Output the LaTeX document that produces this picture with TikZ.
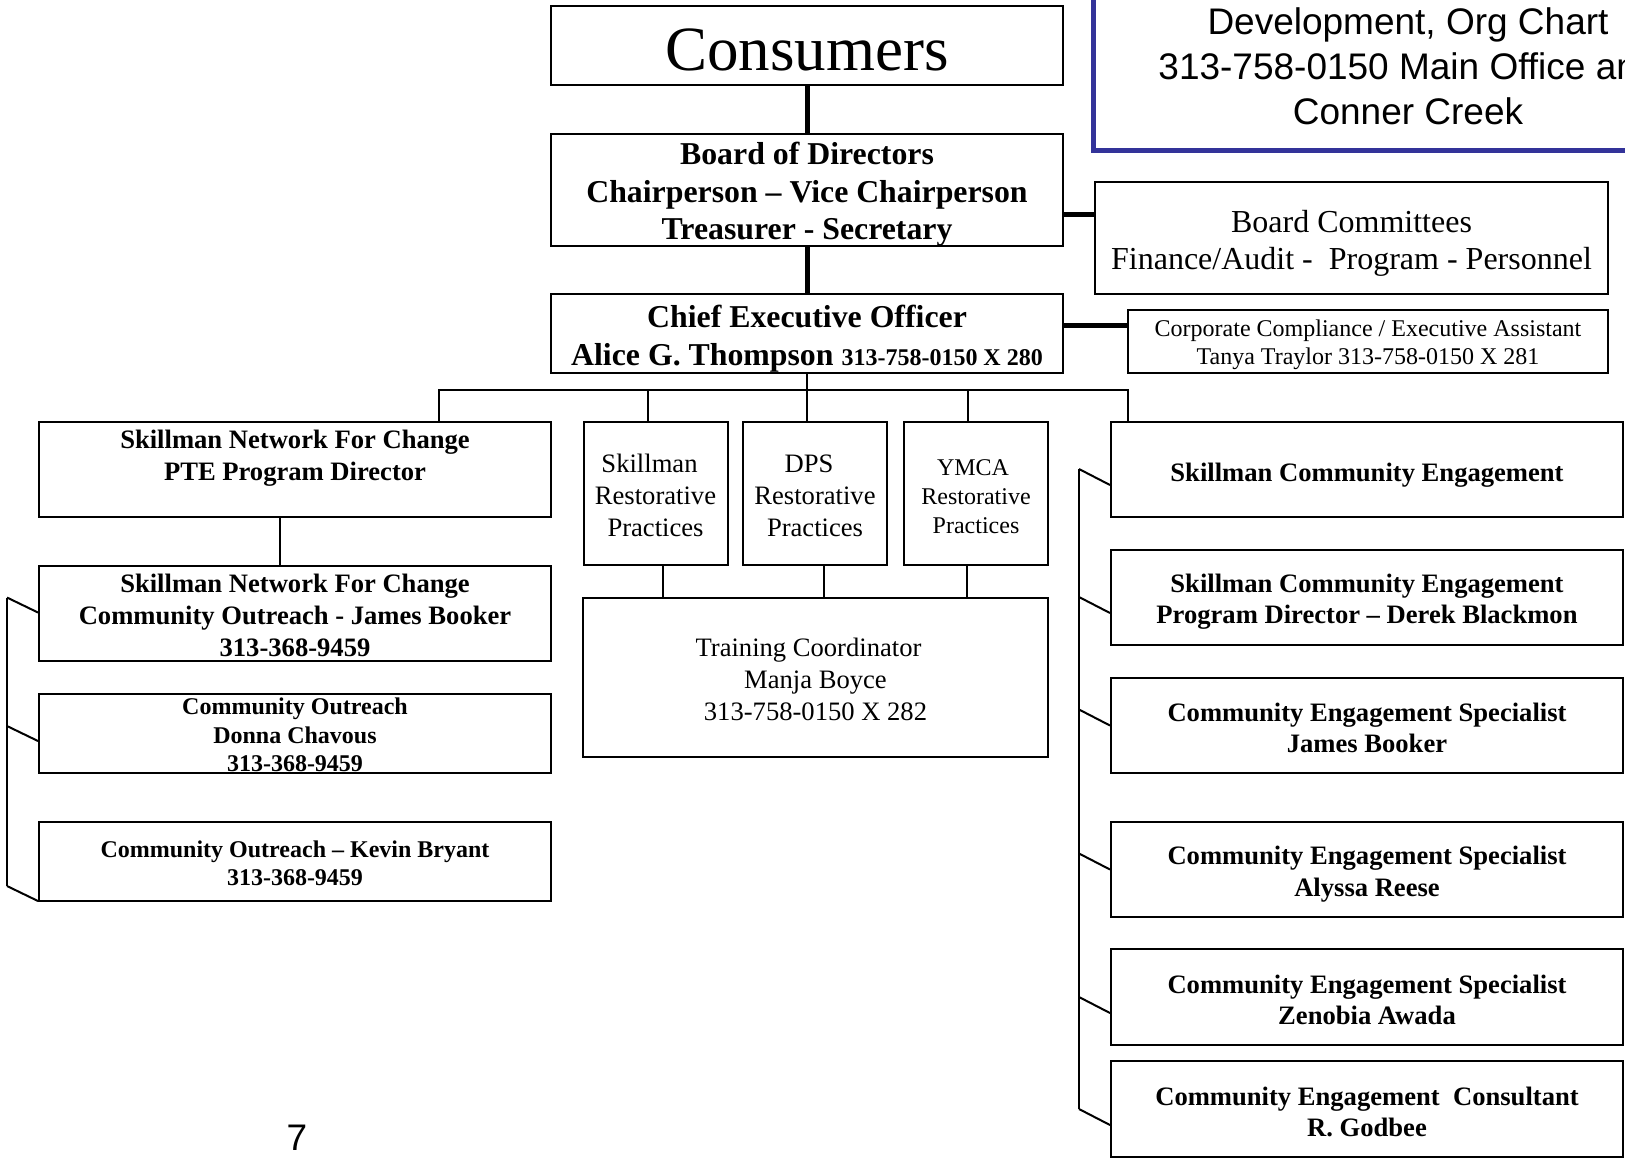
\documentclass[tikz,border=0pt]{standalone}
\usepackage{fontspec}
\setmainfont{Liberation Serif}
\newfontfamily\arialfont{Liberation Sans}
\definecolor{chartblue}{RGB}{51,51,153}
\newcommand\lowerby[1]{\rule{0pt}{\dimexpr0.72em+#1\relax}}

\begin{document}
\begin{tikzpicture}[x=0.5pt, y=-0.5pt,
  orgbox/.style = {draw, line width=1pt, align=center, inner sep=0pt},
  wide/.style = {orgbox, minimum width=256pt, minimum height=47.5pt},
  rpbox/.style = {orgbox, minimum width=72pt, minimum height=71.5pt},
  bigtxt/.style = {font=\bfseries\fontsize{15.9}{18.7}\selectfont},
  midtxt/.style = {font=\bfseries\fontsize{13.3}{15.8}\selectfont},
  smalltxt/.style = {font=\bfseries\fontsize{12}{14.2}\selectfont},
  plaintxt/.style = {font=\fontsize{13.3}{16}\selectfont},
  thin/.style = {line width=1pt},
  heavy/.style = {line width=2.5pt}]
\useasboundingbox (0,0) rectangle (1625,1158);

\draw[chartblue, line width=2.5pt] (1093,-60) rectangle (1723,150);
\node[align=center, inner sep=0pt, font=\arialfont\fontsize{18.5}{22.5}\selectfont] (title) at (1408,66) {Development, Org Chart\\313-758-0150 Main Office and\\Conner Creek};

\node[orgbox, minimum width=256pt, minimum height=39.5pt, font=\fontsize{31.5}{36}\selectfont] (cons) at (807,45.5) {\lowerby{3pt}Consumers};
\node[orgbox, bigtxt, minimum width=256pt, minimum height=56pt] (board) at (807,190) {\lowerby{4pt}Board of Directors\\Chairperson -- Vice Chairperson\\Treasurer - Secretary};
\node[orgbox, minimum width=256.5pt, minimum height=56pt, font=\fontsize{16}{18.5}\selectfont] (comm) at (1351.5,238) {\lowerby{4.5pt}Board Committees\\Finance/Audit -\ \ Program - Personnel};
\node[orgbox, bigtxt, minimum width=256pt, minimum height=39.5pt] (ceo) at (807,333.5) {\lowerby{5pt}Chief Executive Officer\\Alice G. Thompson {\fontsize{12}{14}\selectfont 313-758-0150 X 280}};
\node[orgbox, minimum width=240pt, minimum height=31.5pt, font=\fontsize{12}{14}\selectfont] (corp) at (1368,341.5) {\lowerby{3pt}Corporate Compliance / Executive Assistant\\Tanya Traylor 313-758-0150 X 281};

\node[wide, midtxt] (pte) at (295,469.5) {\lowerby{1.5pt}Skillman Network For Change\\PTE Program Director\\\mbox{}};
\node[wide, midtxt] (snco) at (295,613.5) {\lowerby{1.5pt}Skillman Network For Change\\Community Outreach - James Booker\\313-368-9459};
\node[wide, smalltxt, minimum height=39.5pt] (donna) at (295,733.5) {\lowerby{1pt}Community Outreach\\Donna Chavous\\313-368-9459};
\node[wide, smalltxt, minimum height=39.5pt] (kevin) at (295,861.5) {\lowerby{1.5pt}Community Outreach -- Kevin Bryant\\313-368-9459};

\node[rpbox, plaintxt] (srp) at (655.5,493.5) {\lowerby{2pt}Skillman\hspace*{6pt}\\Restorative\hspace*{3pt}\\Practices};
\node[rpbox, plaintxt] (dps) at (815,493.5) {\lowerby{2pt}DPS\hspace*{6pt}\\Restorative\\Practices};
\node[rpbox, font=\fontsize{12}{14.5}\selectfont] (ymca) at (976,493.5) {\lowerby{2.5pt}YMCA\hspace*{3pt}\\Restorative\hspace*{3pt}\\Practices};
\node[orgbox, plaintxt, minimum width=232.5pt, minimum height=79.5pt] (train) at (815.5,677.5) {\lowerby{2pt}Training Coordinator\hspace*{7pt}\\Manja Boyce\\313-758-0150 X 282};

\node[wide, midtxt] (sce) at (1367,469.5) {\lowerby{5pt}Skillman Community Engagement};
\node[wide, midtxt] (scepd) at (1367,597.5) {\lowerby{4pt}Skillman Community Engagement\\Program Director -- Derek Blackmon};
\node[wide, midtxt] (ces1) at (1367,725.5) {\lowerby{2pt}Community Engagement Specialist\\James Booker};
\node[wide, midtxt] (ces2) at (1367,869.5) {\lowerby{4.5pt}Community Engagement Specialist\\Alyssa Reese};
\node[wide, midtxt, minimum height=48pt] (ces3) at (1367,997) {\lowerby{2.5pt}Community Engagement Specialist\\Zenobia Awada};
\node[wide, midtxt, minimum height=48pt] (cec) at (1367,1109) {\lowerby{2.5pt}Community Engagement\ \ Consultant\\R. Godbee};

\node[inner sep=0pt, font=\arialfont\fontsize{18.5}{22}\selectfont] (pagenum) at (297,1138) {7};

\draw[heavy] (cons.south) -- (board.north);
\draw[heavy] (board.south) -- (ceo.north);
\draw[heavy] ([yshift=-12pt]board.east) -- ([yshift=12pt]comm.west);
\draw[heavy] ([yshift=4.25pt]ceo.east) -- ([yshift=8.25pt]corp.west);

\coordinate (bus) at (807,390);
\draw[thin] (ceo.south) -- (bus);
\draw[thin] ([xshift=72pt]pte.north) |- (bus) -| ([xshift=-119.5pt]sce.north);
\foreach \n in {srp,dps,ymca}
  \draw[thin] ([xshift=-4pt]\n.north) -- ([xshift=-4pt]\n.north |- bus);
\foreach \n/\s in {srp/3.75pt,dps/4.5pt,ymca/-4.5pt}
  \draw[thin] ([xshift=\s]\n.south) -- ([xshift=\s]\n.south |- train.north);
\draw[thin] ([xshift=-7.5pt]pte.south) -- ([xshift=-7.5pt]pte.south |- snco.north);

\foreach \n/\d in {snco/0.5pt,donna/-3.75pt,kevin/-19.75pt}
  \draw[thin] ([yshift=\d]\n.west) -- ++(-31,-15) coordinate (t\n);
\draw[thin] (tsnco) -- (tkevin);

\foreach \n/\d in {sce/-7.75pt,scepd/-7.75pt,ces1/0pt,ces2/0pt,ces3/-8pt,cec/-8pt}
  \draw[thin] ([yshift=\d]\n.west) -- ++(-31,-16) coordinate (t\n);
\draw[thin] (tsce) -- (tcec);
\end{tikzpicture}
\end{document}
